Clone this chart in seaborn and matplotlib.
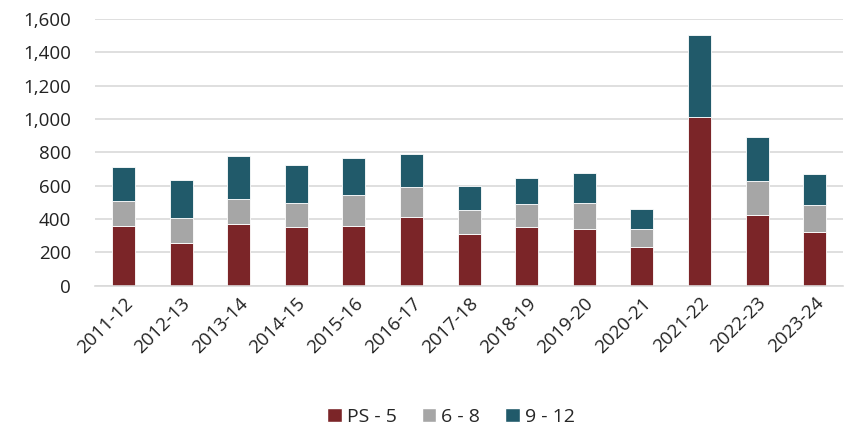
import matplotlib
matplotlib.use("Agg")
import matplotlib.pyplot as plt
import seaborn as sns
import pandas as pd
from matplotlib.patches import Patch

years = ["2011-12", "2012-13", "2013-14", "2014-15", "2015-16", "2016-17", "2017-18",
         "2018-19", "2019-20", "2020-21", "2021-22", "2022-23", "2023-24"]
ps5 = [358, 256, 370, 352, 360, 412, 310, 352, 340, 232, 1014, 424, 322]
g6_8 = [152, 152, 150, 144, 184, 180, 144, 140, 156, 106, 0, 202, 162]
g9_12 = [200, 224, 258, 230, 222, 200, 142, 152, 178, 124, 492, 264, 186]

series_names = ["PS - 5", "6 - 8", "9 - 12"]
colors = ["#7B2528", "#A6A6A6", "#215A6A"]

sns.set_style("white")
plt.rcParams["font.family"] = ["Open Sans", "DejaVu Sans"]

fig = plt.figure(figsize=(8.46, 4.29), dpi=100)
ax = fig.add_axes([0.112, 0.334, 0.885, 0.622])

df = pd.DataFrame({"year": years, "a": ps5, "b": g6_8, "c": g9_12})
bottom = [0] * len(years)
for col, name, color in zip(["a", "b", "c"], series_names, colors):
    sns.barplot(data=df, x="year", y=col, color=color, width=0.4, bottom=bottom,
                edgecolor="white", linewidth=0.6, ax=ax, saturation=1)
    bottom = [b + v for b, v in zip(bottom, df[col])]

ax.set_ylim(0, 1600)
ax.set_xlim(-0.5, len(years) - 0.5)
ax.set_yticks(range(0, 1601, 200))
ax.set_yticklabels([f"{v:,}" for v in range(0, 1601, 200)])
ax.yaxis.grid(True, color="#D9D9D9", linewidth=1.2)
ax.set_axisbelow(True)
for s in ["top", "right", "left"]:
    ax.spines[s].set_visible(False)
ax.spines["bottom"].set_color("#D9D9D9")
ax.spines["bottom"].set_linewidth(1.2)
ax.set_xlabel("")
ax.set_ylabel("")
ax.tick_params(axis="both", length=0, labelsize=13.5, colors="#222222")
ax.tick_params(axis="y", pad=17)
plt.setp(ax.get_xticklabels(), rotation=45, ha="right", rotation_mode="anchor")
ax.tick_params(axis="x", pad=6)

handles = [Patch(facecolor=c, label=n) for c, n in zip(colors, series_names)]
fig.legend(handles=handles, loc="center", bbox_to_anchor=(0.533, 0.028), ncol=3,
           frameon=False, fontsize=14, handlelength=0.75, handleheight=0.75,
           handletextpad=0.25, columnspacing=1.3)

fig.savefig("out.png", dpi=100)
